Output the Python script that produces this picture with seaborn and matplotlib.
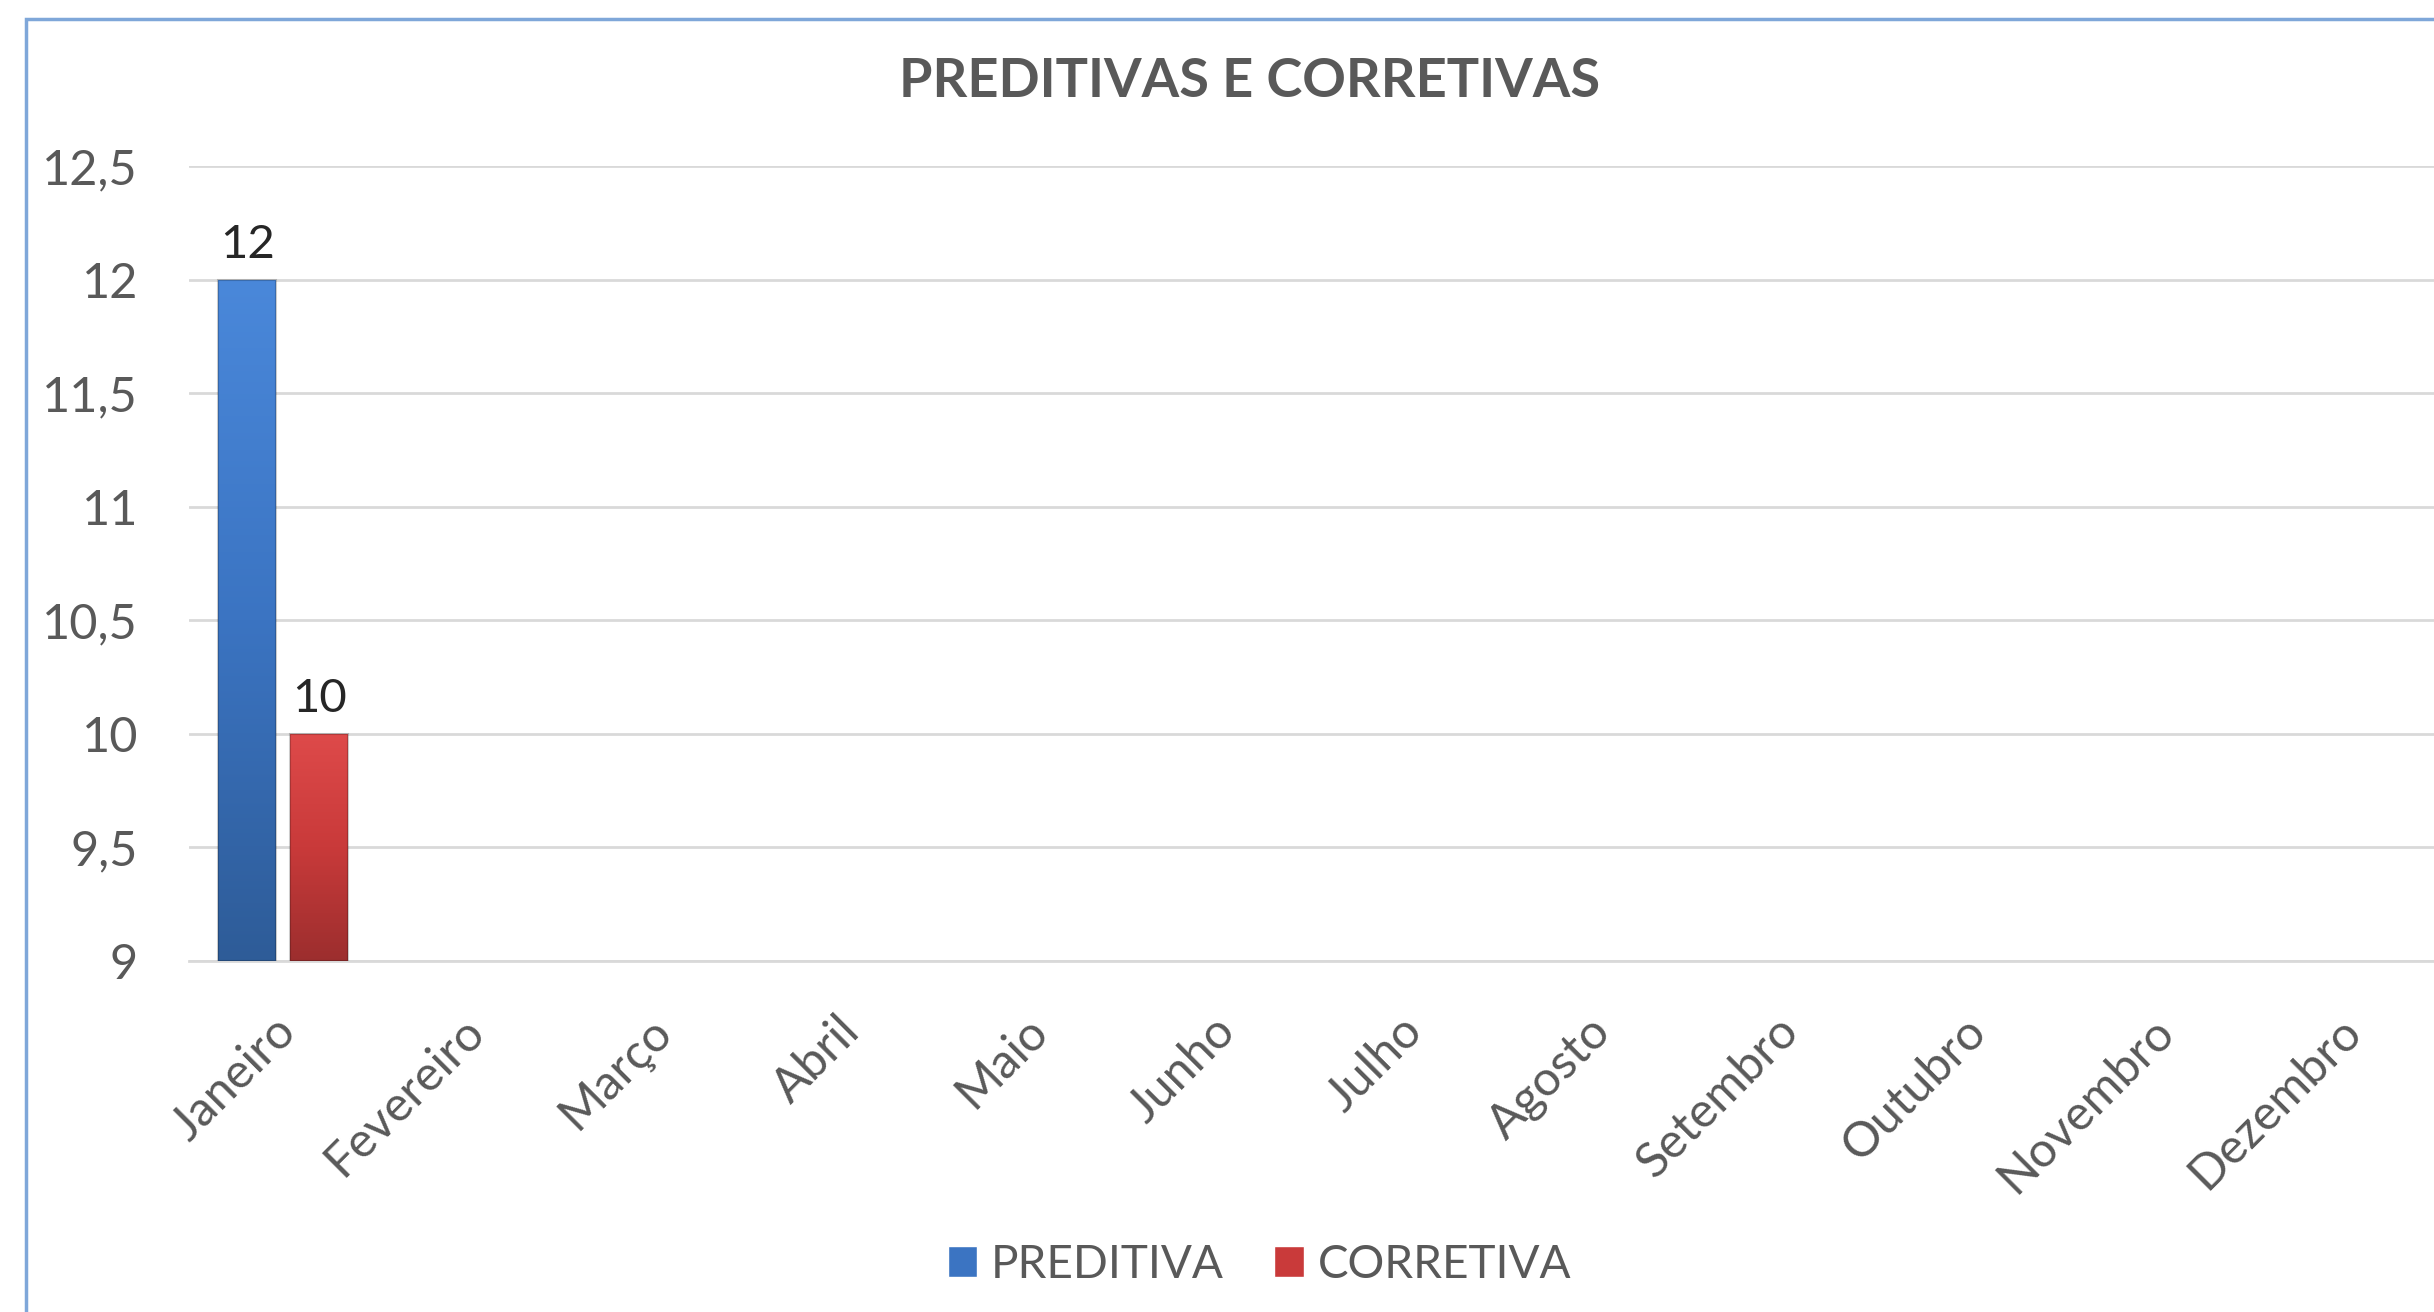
import numpy as np
import pandas as pd
import matplotlib.pyplot as plt
import seaborn as sns
from matplotlib.patches import Rectangle
from matplotlib.colors import LinearSegmentedColormap
from matplotlib.transforms import ScaledTranslation

# dados
meses = ["Janeiro", "Fevereiro", "Março", "Abril", "Maio", "Junho",
         "Julho", "Agosto", "Setembro", "Outubro", "Novembro", "Dezembro"]
preditiva = [12, None, None, None, None, None, None, None, None, None, None, None]
corretiva = [10, None, None, None, None, None, None, None, None, None, None, None]
series = ["PREDITIVA", "CORRETIVA"]
y_ticks = [9, 9.5, 10, 10.5, 11, 11.5, 12, 12.5]

df = pd.DataFrame({
    "mes": meses * 2,
    "valor": preditiva + corretiva,
    "tipo": ["PREDITIVA"] * 12 + ["CORRETIVA"] * 12,
})

cinza = "#595959"
cores = {"PREDITIVA": "#3B74C2", "CORRETIVA": "#C93A3A"}

sns.set_style("white")
plt.rcParams["font.family"] = ["Lato", "DejaVu Sans"]

fig = plt.figure(figsize=(24.34, 13.12), dpi=100)
ax = fig.add_axes([0.0778, 0.2675, 0.9257, 0.606])

sns.barplot(data=df, x="mes", y="valor", hue="tipo", order=meses,
            hue_order=series, palette=cores, width=0.77, gap=0.2,
            saturation=1, ax=ax, legend=True)

ax.set_ylim(9, 12.5)
ax.set_xlim(-0.5, 11.5)

# gradiente nas barras (efeito do Excel)
grad = {
    "PREDITIVA": LinearSegmentedColormap.from_list("b", ["#2E5C98", "#3B74C2", "#4A88DA"]),
    "CORRETIVA": LinearSegmentedColormap.from_list("r", ["#9C2E2E", "#C93A3A", "#DE4A4A"]),
}
for cont, nome in zip(ax.containers, series):
    for bar in cont:
        h = bar.get_height()
        if np.isnan(h):
            continue
        bar.set_linewidth(0)
        x0 = bar.get_x()
        w = bar.get_width()
        g = np.linspace(0, 1, 256).reshape(-1, 1)
        im = ax.imshow(g, cmap=grad[nome], origin="lower", aspect="auto",
                       extent=[x0, x0 + w, 9, h], zorder=3)
        im.set_clip_path(bar)
        ax.add_patch(Rectangle((x0, 9), w, h - 9, fill=False,
                               edgecolor="#00000033", linewidth=1.5, zorder=4))
    ax.bar_label(cont, labels=["" if np.isnan(b.get_height()) else f"{b.get_height():.0f}" for b in cont],
                 padding=10, fontsize=34, color="#262626")

ax.set_ylim(9, 12.5)
ax.set_xlim(-0.5, 11.5)

ax.set_yticks(y_ticks)
ax.set_yticklabels([f"{v:g}".replace(".", ",") for v in y_ticks])
ax.yaxis.grid(True, color="#D9D9D9", linewidth=2)
ax.set_axisbelow(True)
for s in ["top", "right", "left"]:
    ax.spines[s].set_visible(False)
ax.spines["bottom"].set_color("#D9D9D9")
ax.spines["bottom"].set_linewidth(2)
ax.tick_params(axis="y", length=0, pad=37, labelsize=35, labelcolor=cinza)
ax.tick_params(axis="x", length=0, pad=34, labelsize=35, labelcolor=cinza)
desloc = ScaledTranslation(-0.1, 0, fig.dpi_scale_trans)
for lbl in ax.get_xticklabels():
    lbl.set_rotation(45)
    lbl.set_ha("right")
    lbl.set_rotation_mode("anchor")
    lbl.set_transform(lbl.get_transform() + desloc)
ax.set_xlabel("")
ax.set_ylabel("")

# legenda
handles, labels = ax.get_legend_handles_labels()
ax.get_legend().remove()
fig.legend(handles, labels, loc="center", bbox_to_anchor=(0.5175, 0.036), ncol=2,
           frameon=False, fontsize=33, labelcolor=cinza, handlelength=0.65,
           handleheight=0.65, handletextpad=0.3, columnspacing=1.1)

fig.text(0.5135, 0.938, "PREDITIVAS E CORRETIVAS", ha="center", va="center",
         fontsize=39, fontweight="bold", color=cinza)

# borda do grafico
fig.patches.append(Rectangle((0.0107, -0.1), 1.2, 0.9855 + 0.1, transform=fig.transFigure,
                             fill=False, edgecolor="#7FA7D9", linewidth=2.5))

fig.savefig("out.png", dpi=100, facecolor="white")
